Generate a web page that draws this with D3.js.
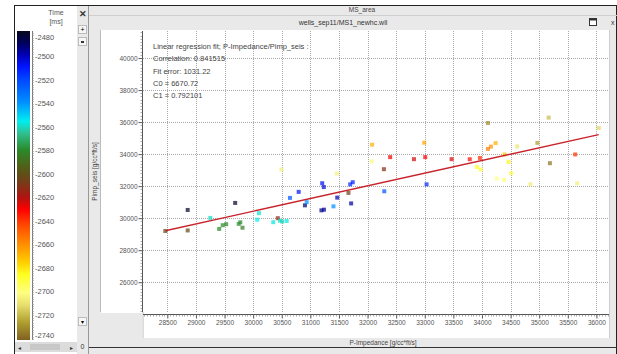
<!DOCTYPE html>
<html>
<head>
<meta charset="utf-8">
<script src="https://cdn.jsdelivr.net/npm/d3@7"></script>
<style>
  body { margin: 0; background: #fff; }
  text { font-family: "Liberation Sans", Arial, sans-serif; }
</style>
</head>
<body>
<svg id="chart" width="617" height="354"></svg>
<script>
// crossplot values (P-Impedance, Pimp_seis, time in ms)
var pImpedance = [28465, 28856, 28856, 29251, 29686, 29407, 29468, 29529, 29748, 29776, 29814,
  30102, 30071, 30352, 30431, 30469, 30508, 30586, 30495, 30644, 30796, 30906, 30936, 31194,
  31238, 31207, 31235, 31404, 31462, 31470, 31666, 31696, 31741, 31713, 32080, 32073, 32286,
  32292, 32395, 32811, 32991, 33008, 33032, 33469, 33786, 33964, 33911, 33976, 34104, 34104,
  34156, 34238, 34259, 34387, 34395, 34465, 34509, 34614, 34846, 34968, 35166, 35187, 35629,
  35664, 36040];
var pimpSeis = [29197, 30513, 29234, 30018, 30952, 29328, 29560, 29623, 29642, 29742, 29404,
  30313, 29905, 29749, 29999, 29843, 29792, 29824, 33040, 31266, 31642, 30802, 31003, 30488,
  30532, 32181, 31943, 30739, 32789, 31285, 31579, 32112, 32244, 30921, 34589, 33554, 33059,
  31680, 33812, 33686, 34714, 33812, 32112, 33686, 33680, 33761, 33197, 33040, 35943, 34326,
  34470, 34689, 32476, 32394, 33981, 33511, 32808, 34482, 32119, 34702, 36282, 33435, 33981,
  32181, 35630];
var timeMs = [2602, 2482, 2602, 2560, 2483, 2580, 2580, 2582, 2578, 2580, 2584,
  2558, 2556, 2558, 2612, 2560, 2562, 2557, 2705, 2525, 2510, 2493, 2540, 2495,
  2497, 2508, 2505, 2540, 2705, 2500, 2605, 2515, 2512, 2498, 2668, 2702, 2612,
  2525, 2628, 2624, 2665, 2630, 2515, 2625, 2632, 2638, 2685, 2688, 2730, 2655,
  2660, 2668, 2700, 2698, 2672, 2683, 2690, 2708, 2706, 2725, 2718, 2735, 2640,
  2705, 2712];

// regression result
var fitC0 = 6670.72;
var fitC1 = 0.792101;
var fitLines = ["Linear regression fit; P-Impedance/Pimp_seis :", "Correlation: 0.841515",
  "Fit error: 1031.22", "C0 = 6670.72", "C1 = 0.792101"];

// colour table for time
var colorStops = [2480, 2490, 2500, 2510, 2520, 2540, 2556, 2566, 2580, 2594, 2606, 2620, 2630,
  2645, 2660, 2675, 2685, 2700, 2710, 2725, 2740];
var colorValues = ["#08081c", "#00005c", "#0000b4", "#0014ff", "#0044ff", "#0090ff", "#00eeee",
  "#30c090", "#2a8a2a", "#506018", "#704018", "#b01410", "#ff0000", "#ff5000", "#ff9000",
  "#ffd000", "#ffff20", "#ffff80", "#e8e070", "#b0a030", "#806020"];
var colorTicks = [2480, 2500, 2520, 2540, 2560, 2580, 2600, 2620, 2640, 2660, 2680, 2700, 2720, 2740];

var xTicks = d3.range(28500, 36001, 500);
var yTicks = d3.range(26000, 40001, 2000);

var svg = d3.select("#chart");
var color = d3.scaleLinear().domain(colorStops).range(colorValues);

// --- window chrome ---
svg.append("rect").attr("x", 0).attr("y", 0).attr("width", 617).attr("height", 354).attr("fill", "#fff");
svg.append("rect").attr("x", 77).attr("y", 5).attr("width", 540).attr("height", 349).attr("fill", "#e9e9e9");
svg.append("rect").attr("x", 14.5).attr("y", 5.5).attr("width", 602).attr("height", 352)
  .attr("fill", "none").attr("stroke", "#222").attr("stroke-width", 1);

// left colour bar panel
svg.append("rect").attr("x", 15).attr("y", 6).attr("width", 62).attr("height", 334).attr("fill", "#fff");
svg.append("rect").attr("x", 15).attr("y", 342).attr("width", 62).attr("height", 10).attr("fill", "#dcdcdc");
svg.append("rect").attr("x", 30).attr("y", 344).attr("width", 30).attr("height", 6).attr("fill", "#c8c8c8");
svg.append("text").attr("x", 18).attr("y", 350).attr("font-size", 6).attr("fill", "#333").text("◂");
svg.append("text").attr("x", 70).attr("y", 350).attr("font-size", 6).attr("fill", "#333").text("▸");

svg.append("text").attr("x", 56).attr("y", 15).attr("text-anchor", "middle").attr("font-size", 7)
  .attr("fill", "#555").text("Time");
svg.append("text").attr("x", 56).attr("y", 24).attr("text-anchor", "middle").attr("font-size", 7)
  .attr("fill", "#555").text("[ms]");

var grad = svg.append("defs").append("linearGradient").attr("id", "tgrad")
  .attr("x1", 0).attr("y1", 0).attr("x2", 0).attr("y2", 1);
grad.selectAll("stop").data(colorStops).enter().append("stop")
  .attr("offset", function(d) { return (d - 2480) / 260; })
  .attr("stop-color", function(d) { return color(d); });

var cScale = d3.scaleLinear().domain([2480, 2740]).range([33, 339]);
svg.append("rect").attr("x", 17).attr("y", 31).attr("width", 13).attr("height", 309)
  .attr("fill", "url(#tgrad)");
var cAxis = svg.append("g").attr("transform", "translate(32,0)");
cAxis.append("line").attr("x1", 0.5).attr("x2", 0.5).attr("y1", 31).attr("y2", 340).attr("stroke", "#777");
cAxis.selectAll("line.minor").data(d3.range(2480, 2741, 2)).enter().append("line")
  .attr("class", "minor").attr("x1", 0).attr("x2", 2)
  .attr("y1", function(d) { return Math.round(cScale(d)) + 0.5; })
  .attr("y2", function(d) { return Math.round(cScale(d)) + 0.5; })
  .attr("stroke", "#999").attr("stroke-width", 0.6);
cAxis.selectAll("text").data(colorTicks).enter().append("text")
  .attr("x", 3).attr("y", function(d) { return Math.min(Math.max(cScale(d), 37), 335) + 2.5; })
  .attr("font-size", 7.5).attr("fill", "#555")
  .text(function(d) { return "-" + d; });

// small button column
svg.append("text").attr("x", 82.5).attr("y", 17).attr("text-anchor", "middle").attr("font-size", 9)
  .attr("font-weight", "bold").attr("fill", "#333").text("✕");
svg.append("rect").attr("x", 78.5).attr("y", 25.5).attr("width", 8).attr("height", 8)
  .attr("fill", "#f6f6f6").attr("stroke", "#bbb");
svg.append("text").attr("x", 82.5).attr("y", 32).attr("text-anchor", "middle").attr("font-size", 7).text("+");
svg.append("rect").attr("x", 78.5).attr("y", 37.5).attr("width", 8).attr("height", 8)
  .attr("fill", "#f6f6f6").attr("stroke", "#bbb");
svg.append("rect").attr("x", 81).attr("y", 41).attr("width", 3).attr("height", 2).attr("fill", "#333");
svg.append("rect").attr("x", 78.5).attr("y", 317.5).attr("width", 8).attr("height", 8)
  .attr("fill", "#f6f6f6").attr("stroke", "#bbb");
svg.append("text").attr("x", 82.5).attr("y", 324).attr("text-anchor", "middle").attr("font-size", 6).text("▾");
svg.append("text").attr("x", 82.5).attr("y", 349).attr("text-anchor", "middle").attr("font-size", 7)
  .attr("fill", "#333").text("0");
svg.append("line").attr("x1", 88.5).attr("x2", 88.5).attr("y1", 6).attr("y2", 354).attr("stroke", "#999");

// title bars
svg.append("text").attr("x", 362).attr("y", 12).attr("text-anchor", "middle").attr("font-size", 6.5)
  .attr("fill", "#444").text("MS_area");
svg.append("line").attr("x1", 89).attr("x2", 617).attr("y1", 15.5).attr("y2", 15.5).attr("stroke", "#cfcfcf");
svg.append("text").attr("x", 343).attr("y", 25).attr("text-anchor", "middle").attr("font-size", 7)
  .attr("fill", "#333").text("wells_sep11/MS1_newhc.wll");
svg.append("rect").attr("x", 589.5).attr("y", 18.5).attr("width", 7).attr("height", 7)
  .attr("fill", "#fff").attr("stroke", "#333");
svg.append("rect").attr("x", 589.5).attr("y", 18.5).attr("width", 7).attr("height", 2).attr("fill", "#333");
svg.append("text").attr("x", 611).attr("y", 25).attr("font-size", 7).attr("fill", "#333").text("x");

// plot panels
svg.append("rect").attr("x", 101).attr("y", 30).attr("width", 508).attr("height", 308).attr("fill", "#fff");
svg.append("line").attr("x1", 100.5).attr("x2", 100.5).attr("y1", 30).attr("y2", 312).attr("stroke", "#bbb");
svg.append("line").attr("x1", 143).attr("x2", 143).attr("y1", 312).attr("y2", 338).attr("stroke", "#bbb");
svg.append("rect").attr("x", 101).attr("y", 313).attr("width", 41.5).attr("height", 25).attr("fill", "#e9e9e9");
svg.append("line").attr("x1", 609.5).attr("x2", 609.5).attr("y1", 30).attr("y2", 338).attr("stroke", "#ccc");
svg.append("line").attr("x1", 89).attr("x2", 617).attr("y1", 347.5).attr("y2", 347.5).attr("stroke", "#333");

var plotL = 143, plotR = 609, plotT = 31, plotB = 312;
var x = d3.scaleLinear().domain([28075, 36220]).range([plotL, plotR]);
var y = d3.scaleLinear().domain([24140, 41690]).range([plotB, plotT]);

// dotted grid
svg.append("g").selectAll("line").data(xTicks).enter().append("line")
  .attr("x1", function(d) { return Math.round(x(d)) + 0.5; })
  .attr("x2", function(d) { return Math.round(x(d)) + 0.5; })
  .attr("y1", plotT).attr("y2", plotB)
  .attr("stroke", "#aaa").attr("stroke-dasharray", "1,1");
svg.append("g").selectAll("line").data(yTicks).enter().append("line")
  .attr("y1", function(d) { return Math.round(y(d)) + 0.5; })
  .attr("y2", function(d) { return Math.round(y(d)) + 0.5; })
  .attr("x1", plotL).attr("x2", plotR)
  .attr("stroke", "#aaa").attr("stroke-dasharray", "1,1");

// y axis
var yAxis = d3.axisLeft(y).tickValues(yTicks).tickSize(4).tickFormat(d3.format("d"));
var yg = svg.append("g").attr("transform", "translate(" + (plotL - 0.5) + ",0)").call(yAxis);
yg.select(".domain").attr("d", "M0," + plotT + "V" + plotB).attr("stroke", "#555");
yg.selectAll(".tick line").attr("stroke", "#555");
yg.selectAll("text").attr("font-size", 6.5).attr("fill", "#555").attr("x", -5)
  .attr("font-family", "Liberation Sans, Arial, sans-serif");
yg.append("g").selectAll("line").data(d3.range(24200, 41690, 200)).enter().append("line")
  .attr("x1", -2).attr("x2", 0)
  .attr("y1", function(d) { return Math.round(y(d)) + 0.5; })
  .attr("y2", function(d) { return Math.round(y(d)) + 0.5; })
  .attr("stroke", "#777").attr("stroke-width", 0.6);

svg.append("text").attr("transform", "translate(97," + ((plotT + plotB) / 2) + ") rotate(-90)")
  .attr("text-anchor", "middle").attr("font-size", 6.5).attr("fill", "#444")
  .text("Pimp_seis [g/cc*ft/s]");

// x axis
var xAxis = d3.axisBottom(x).tickValues(xTicks).tickSize(4).tickFormat(d3.format("d"));
var xg = svg.append("g").attr("transform", "translate(0," + (plotB + 2.5) + ")").call(xAxis);
xg.select(".domain").attr("d", "M" + plotL + ",0H" + plotR).attr("stroke", "#555");
xg.selectAll(".tick line").attr("stroke", "#555");
xg.selectAll("text").attr("font-size", 6.5).attr("fill", "#555").attr("y", 6)
  .attr("font-family", "Liberation Sans, Arial, sans-serif");
xg.append("g").selectAll("line").data(d3.range(28100, 36220, 50)).enter().append("line")
  .attr("y1", 0).attr("y2", 2)
  .attr("x1", function(d) { return Math.round(x(d)) + 0.5; })
  .attr("x2", function(d) { return Math.round(x(d)) + 0.5; })
  .attr("stroke", "#777").attr("stroke-width", 0.6);

svg.append("text").attr("x", 383).attr("y", 345).attr("text-anchor", "middle").attr("font-size", 6.5)
  .attr("fill", "#444").text("P-Impedance [g/cc*ft/s]");

// regression info text
svg.append("g").selectAll("text").data(fitLines).enter().append("text")
  .attr("x", 153).attr("y", function(d, i) { return 49 + i * 12.3; })
  .attr("font-size", 7.5).attr("fill", "#444")
  .text(function(d) { return d; });

// points
var pts = d3.range(pImpedance.length);
svg.append("g").selectAll("rect").data(pts).enter().append("rect")
  .attr("x", function(i) { return x(pImpedance[i]) - 2; })
  .attr("y", function(i) { return y(pimpSeis[i]) - 2; })
  .attr("width", 4).attr("height", 4)
  .attr("fill", function(i) { return color(timeMs[i]); })
  .attr("opacity", 0.72);

// fitted line over data range
var xMin = d3.min(pImpedance), xMax = d3.max(pImpedance);
svg.append("line")
  .attr("x1", x(xMin)).attr("y1", y(fitC0 + fitC1 * xMin))
  .attr("x2", x(xMax)).attr("y2", y(fitC0 + fitC1 * xMax))
  .attr("stroke", "#c8232a").attr("stroke-width", 1.4);
</script>
</body>
</html>
